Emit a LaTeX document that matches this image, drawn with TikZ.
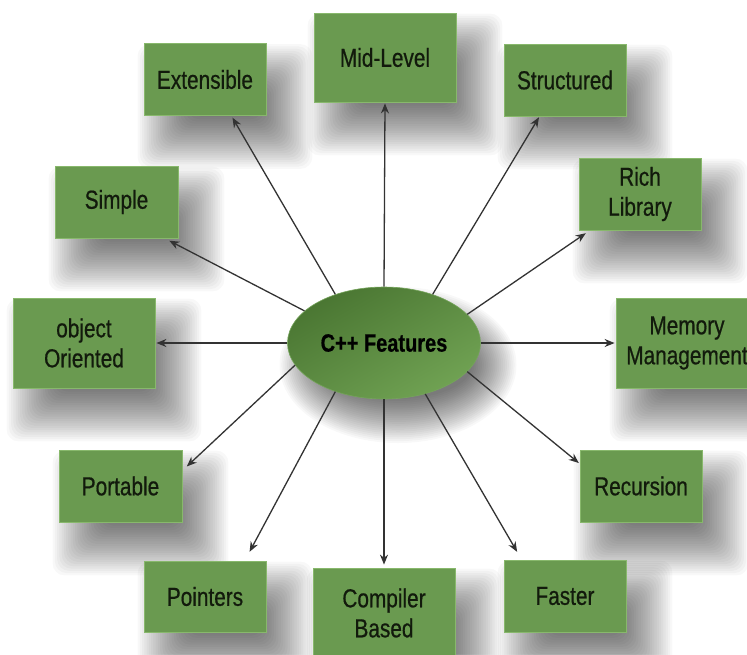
\documentclass[tikz,border=0pt]{standalone}
\usepackage{fontspec}
\setmainfont{Liberation Sans}[FakeStretch=0.8,FakeBold=0.6]
\usetikzlibrary{shapes.geometric,arrows.meta,calc}
\definecolor{boxfill}{HTML}{6A9A50}
\definecolor{boxedge}{HTML}{88B86C}
\definecolor{elldark}{HTML}{4A7632}
\definecolor{elllight}{HTML}{70A253}
\definecolor{linkcol}{HTML}{333333}
\definecolor{txt}{HTML}{121A0C}
\pgfdeclarelayer{paper}
\pgfdeclarelayer{shade}
\pgfsetlayers{paper,shade,main}

\begin{document}
\begin{tikzpicture}[x=1pt,y=-1pt,
  feature/.style={rectangle,fill=boxfill,draw=boxedge,line width=0.8pt,
      inner sep=0pt,align=center,text=txt,
      font=\fontsize{26}{30}\selectfont},
  small/.style={minimum width=122pt,minimum height=72pt},
  large/.style={minimum width=142pt,minimum height=90pt},
  hub/.style={ellipse,inner sep=0pt,minimum width=193pt,minimum height=112pt,
      top color=elldark,bottom color=elllight,shading angle=30,
      draw=boxedge!70!elldark,line width=0.6pt,text=black,
      font=\fontsize{25}{30}\selectfont\bfseries},
  shadowlayer/.style={fill=black,opacity=0.026},
  link/.style={draw=linkcol,line width=1.3pt,-{Stealth[length=10pt,width=8pt]}}
]
\useasboundingbox (0,0) rectangle (747,654);
\begin{pgfonlayer}{paper}
  \fill[white] (0,0) rectangle (747,654);
\end{pgfonlayer}

% central hub
\node[hub] (hub) at (384,343) {C++ Features};

% feature boxes
\node[feature,small] (ext)  at (205,79.5)  {Extensible};
\node[feature,large,minimum height=89pt] (mid) at (385,57.5) {Mid-Level};
\node[feature,small] (str)  at (565,80)    {Structured};
\node[feature,small,minimum width=123pt] (sim) at (116.5,202) {Simple};
\node[feature,small] (rich) at (640,194)   {Rich\\Library};
\node[feature,large] (oo)   at (84,343)    {object\\Oriented};
\node[feature,large] (mem)  at (687,343)   {Memory\\Management};
\node[feature,small,minimum width=123pt] (por) at (120.5,486) {Portable};
\node[feature,small] (rec)  at (641,486)   {Recursion};
\node[feature,small,minimum height=71pt] (ptr) at (205,596.5) {Pointers};
\node[feature,large] (cmp)  at (384,613)   {Compiler\\Based};
\node[feature,small] (fst)  at (565,596)   {Faster};

% soft drop shadows: stacked translucent layers, shrinking inwards
\begin{pgfonlayer}{shade}
  \foreach \n in {ext,mid,str,sim,rich,oo,mem,por,rec,ptr,cmp,fst}{
    \foreach \k [evaluate=\k as \s using {26-52*\k/23}] in {0,...,23}{
      \fill[shadowlayer,rounded corners=12pt]
        ($(\n.south west)+({20-(\s)},{27+(\s)})$) rectangle
        ($(\n.north east)+({20+(\s)},{27-(\s)})$);
    }
  }
  \foreach \k [evaluate=\k as \s using {22-44*\k/23}] in {0,...,23}{
    \fill[shadowlayer] ($(hub.center)+(14,22)$)
      ellipse [x radius={96.5pt+\s pt}, y radius={56pt+\s pt}];
  }
\end{pgfonlayer}

% connectors from the hub to every feature
\draw[link,shorten >=2pt]  (hub.135.6) -- (ext.-54);
\draw[link,shorten >=1pt]  (hub.90)    -- (mid.south);
\draw[link,shorten >=1pt]  (hub.45)    -- (str.235.2);
\draw[link,shorten >=5pt]  (hub.158.6) -- (sim.-37);
\draw[link,shorten >=5pt]  (hub.19.4)  -- (rich.216.3);
\draw[link,shorten >=1pt]  (hub.180)   -- (oo.east);
\draw[link,shorten >=1pt]  (hub.0)     -- (mem.west);
\draw[link,shorten >=6pt]  (hub.194.8) -- (por.14.6);
\draw[link,shorten >=1pt]  (hub.341)   -- (rec.160.2);
\draw[link,shorten >=10pt] (hub.225.6) -- (ptr.42.3);
\draw[link,shorten >=3pt]  (hub.270)   -- (cmp.north);
\draw[link,shorten >=9pt]  (hub.309.6) -- (fst.140.3);
\end{tikzpicture}
\end{document}
